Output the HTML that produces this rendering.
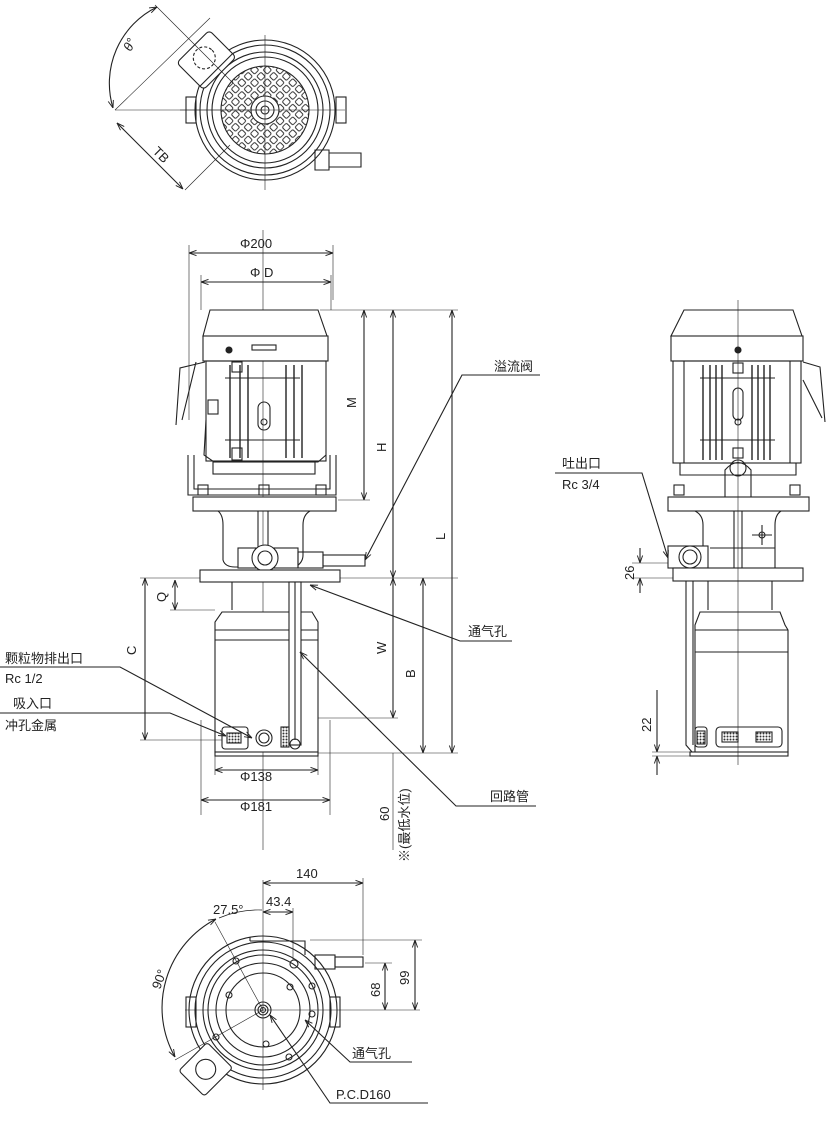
<!DOCTYPE html>
<html><head><meta charset="utf-8"><style>
html,body{margin:0;padding:0;background:#fff}
svg{display:block}
text{font-family:"Liberation Sans","Noto Sans CJK SC",sans-serif;fill:#222}
</style></head><body>
<svg width="829" height="1139" viewBox="0 0 829 1139" xmlns="http://www.w3.org/2000/svg">
<defs>
<marker id="a" viewBox="0 0 10 10" refX="10" refY="5" markerWidth="7" markerHeight="7" orient="auto-start-reverse"><path d="M0,1.5 L10,5 L0,8.5" fill="none" stroke="#222" stroke-width="1.2"/></marker>
<pattern id="grid" width="9" height="9" patternUnits="userSpaceOnUse" patternTransform="rotate(45)"><rect x="1.5" y="1.5" width="6" height="6" rx="1.5" fill="none" stroke="#333" stroke-width="0.9"/></pattern>
<pattern id="mesh" width="3" height="3" patternUnits="userSpaceOnUse"><circle cx="1.5" cy="1.5" r="1" fill="#333"/></pattern>
</defs>
<g fill="none" stroke="#222" stroke-width="1.1">

<!-- ========== TOP VIEW ========== -->
<circle cx="265" cy="110" r="70"/>
<circle cx="265" cy="110" r="65"/>
<circle cx="265" cy="110" r="58"/>
<circle cx="265" cy="110" r="53"/>
<circle cx="265" cy="110" r="44" fill="url(#grid)"/>
<circle cx="265" cy="110" r="14" fill="#fff"/>
<circle cx="265" cy="110" r="9"/>
<circle cx="265" cy="110" r="4"/>
<rect x="186" y="97" width="10" height="26"/>
<rect x="336" y="97" width="10" height="26"/>
<g transform="rotate(-45 205 60)"><rect x="183" y="42" width="46" height="38" rx="4" fill="#fff"/><line x1="183" y1="75" x2="229" y2="75"/><circle cx="206" cy="58" r="11" stroke-dasharray="3 2"/></g>
<path d="M315 150 h14 v20 h-14 z M329 153 h32 v14 h-32"/>
<line x1="180" y1="110" x2="345" y2="110" stroke-width="0.6"/>
<line x1="265" y1="35" x2="265" y2="190" stroke-width="0.6"/>
<line x1="115" y1="110" x2="265" y2="110" stroke-width="0.6"/>
<line x1="115" y1="110" x2="210" y2="18" stroke-width="0.6"/>
<line x1="155" y1="5" x2="235" y2="85" stroke-width="0.6"/>
<line x1="185" y1="190" x2="230" y2="145" stroke-width="0.6"/>
<path d="M113 108 A 85 85 0 0 1 157 7" marker-start="url(#a)" marker-end="url(#a)"/>
<line x1="117" y1="123" x2="183" y2="189" marker-start="url(#a)" marker-end="url(#a)"/>

<!-- ========== FRONT VIEW ========== -->
<line x1="189" y1="245" x2="189" y2="420" stroke-width="0.6"/>
<line x1="333" y1="245" x2="333" y2="300" stroke-width="0.6"/>
<line x1="201" y1="275" x2="201" y2="310" stroke-width="0.6"/>
<line x1="331" y1="275" x2="331" y2="310" stroke-width="0.6"/>
<line x1="189" y1="253" x2="333" y2="253" marker-start="url(#a)" marker-end="url(#a)"/>
<line x1="201" y1="282" x2="331" y2="282" marker-start="url(#a)" marker-end="url(#a)"/>
<line x1="263" y1="230" x2="263" y2="850" stroke-width="0.6"/>
<path d="M210 310 L318 310 L327 336 L203 336 Z" fill="#fff"/>
<rect x="203" y="336" width="125" height="25" fill="#fff"/>
<rect x="252" y="345" width="24" height="5"/>
<circle cx="229" cy="350" r="3" fill="#222"/>
<rect x="206" y="361" width="120" height="100"/>
<g stroke-width="1.4">
<line x1="230" y1="365" x2="230" y2="458"/><line x1="240" y1="365" x2="240" y2="458"/><line x1="248" y1="365" x2="248" y2="458"/>
<line x1="286" y1="365" x2="286" y2="458"/><line x1="294" y1="365" x2="294" y2="458"/><line x1="302" y1="365" x2="302" y2="458"/>
</g>
<line x1="225" y1="378" x2="300" y2="378"/><line x1="225" y1="440" x2="300" y2="440"/>
<rect x="258" y="402" width="12" height="28" rx="6"/>
<circle cx="264" cy="422" r="3"/>
<rect x="232" y="362" width="10" height="10"/><rect x="232" y="448" width="10" height="12"/>
<path d="M205 362 L180 368 L176 425 M196 362 L182 420" />
<rect x="208" y="400" width="10" height="14"/>
<path d="M206 420 L204 455 L214 462 L318 462 L326 455"/>
<rect x="213" y="462" width="102" height="12"/>
<path d="M188 455 L188 495 L336 495 L336 455"/>
<path d="M194 455 L194 489 L330 489 L330 455"/>
<rect x="198" y="485" width="10" height="10"/><rect x="259" y="485" width="10" height="10"/><rect x="316" y="485" width="10" height="10"/>
<rect x="193" y="497" width="143" height="14" fill="#fff"/>
<path d="M218 511 Q223 515 223 525 L223 560 Q225 567 235 567 L295 567 Q303 563 303 555 L303 525 Q303 515 310 511"/>
<line x1="258" y1="511" x2="258" y2="570"/><line x1="268" y1="511" x2="268" y2="570"/>
<rect x="238" y="548" width="60" height="20" fill="#fff"/>
<circle cx="265" cy="558" r="13" fill="#fff"/><circle cx="265" cy="558" r="7"/>
<rect x="298" y="552" width="25" height="16"/><rect x="323" y="555" width="42" height="11"/>
<rect x="200" y="570" width="140" height="12" fill="#fff"/>
<line x1="232" y1="582" x2="232" y2="610"/><line x1="298" y1="582" x2="298" y2="610"/>
<path d="M215 752 L215 622 L222 612 L312 612 L318 622 L318 752 Z" fill="#fff"/>
<line x1="215" y1="630" x2="318" y2="630"/><line x1="215" y1="640" x2="318" y2="640"/>
<rect x="289" y="582" width="12" height="163" fill="#fff"/>
<line x1="295" y1="582" x2="295" y2="740"/>
<circle cx="295" cy="744" r="5"/>
<rect x="222" y="727" width="26" height="22" rx="3"/>
<rect x="227" y="733" width="14" height="10" fill="url(#mesh)"/>
<circle cx="264" cy="738" r="8"/><circle cx="264" cy="738" r="5"/>
<rect x="281" y="727" width="8" height="20" fill="url(#mesh)"/>
<rect x="215" y="752" width="103" height="4"/>
<line x1="320" y1="310" x2="458" y2="310" stroke-width="0.6"/>
<line x1="338" y1="500" x2="370" y2="500" stroke-width="0.6"/>
<line x1="340" y1="578" x2="458" y2="578" stroke-width="0.6"/>
<line x1="318" y1="718" x2="398" y2="718" stroke-width="0.6"/>
<line x1="318" y1="753" x2="458" y2="753" stroke-width="0.6"/>
<line x1="364" y1="310" x2="364" y2="500" marker-start="url(#a)" marker-end="url(#a)"/>
<line x1="393" y1="310" x2="393" y2="578" marker-start="url(#a)" marker-end="url(#a)"/>
<line x1="452" y1="310" x2="452" y2="753" marker-start="url(#a)" marker-end="url(#a)"/>
<line x1="393" y1="578" x2="393" y2="718" marker-start="url(#a)" marker-end="url(#a)"/>
<line x1="423" y1="578" x2="423" y2="753" marker-start="url(#a)" marker-end="url(#a)"/>
<line x1="393" y1="753" x2="393" y2="850" stroke-width="0.6"/>
<line x1="140" y1="578" x2="200" y2="578" stroke-width="0.6"/>
<line x1="170" y1="610" x2="215" y2="610" stroke-width="0.6"/>
<line x1="140" y1="740" x2="222" y2="740" stroke-width="0.6"/>
<line x1="145" y1="578" x2="145" y2="740" marker-start="url(#a)" marker-end="url(#a)"/>
<line x1="175" y1="580" x2="175" y2="610" marker-start="url(#a)" marker-end="url(#a)"/>
<line x1="215" y1="756" x2="215" y2="775" stroke-width="0.6"/>
<line x1="318" y1="756" x2="318" y2="775" stroke-width="0.6"/>
<line x1="201" y1="720" x2="201" y2="815" stroke-width="0.6"/>
<line x1="330" y1="720" x2="330" y2="815" stroke-width="0.6"/>
<line x1="215" y1="770" x2="318" y2="770" marker-start="url(#a)" marker-end="url(#a)"/>
<line x1="201" y1="800" x2="330" y2="800" marker-start="url(#a)" marker-end="url(#a)"/>
<polyline points="540,375 462,375 365,560" marker-end="url(#a)"/>
<polyline points="512,641 460,641 310,585" marker-end="url(#a)"/>
<polyline points="536,806 456,806 300,652" marker-end="url(#a)"/>
<polyline points="0,667 120,667 252,738" marker-end="url(#a)"/>
<polyline points="0,713 170,713 226,736" marker-end="url(#a)"/>

<!-- ========== RIGHT VIEW ========== -->
<path d="M684 310 L793 310 L802 336 L671 336 Z" fill="#fff"/>
<rect x="671" y="336" width="132" height="25" fill="#fff"/>
<circle cx="738" cy="350" r="3" fill="#222"/>
<rect x="673" y="361" width="128" height="102"/>
<line x1="684" y1="361" x2="684" y2="463"/><line x1="790" y1="361" x2="790" y2="463"/>
<g stroke-width="1.4">
<line x1="703" y1="365" x2="703" y2="460"/><line x1="710" y1="365" x2="710" y2="460"/><line x1="716" y1="365" x2="716" y2="460"/><line x1="722" y1="365" x2="722" y2="460"/>
<line x1="752" y1="365" x2="752" y2="460"/><line x1="758" y1="365" x2="758" y2="460"/><line x1="764" y1="365" x2="764" y2="460"/><line x1="770" y1="365" x2="770" y2="460"/>
</g>
<line x1="700" y1="378" x2="775" y2="378"/><line x1="700" y1="440" x2="775" y2="440"/>
<rect x="733" y="388" width="10" height="32" rx="5"/><circle cx="738" cy="422" r="3"/>
<rect x="733" y="363" width="10" height="10"/><rect x="733" y="448" width="10" height="10"/>
<path d="M803 362 L820 367 L825 422 M803 380 L822 418"/>
<path d="M680 463 L680 475 L796 475 L796 463"/>
<path d="M725 497 L725 470 Q738 455 751 470 L751 497"/><circle cx="738" cy="468" r="8"/>
<rect x="674" y="485" width="10" height="10"/><rect x="790" y="485" width="10" height="10"/>
<rect x="668" y="497" width="141" height="14" fill="#fff"/>
<path d="M695 511 Q703 515 703 525 L703 560 M781 511 Q775 515 775 525 L775 568"/>
<line x1="734" y1="511" x2="734" y2="568"/><line x1="742" y1="511" x2="742" y2="568"/>
<line x1="710" y1="548" x2="775" y2="548"/>
<rect x="668" y="546" width="40" height="22" fill="#fff"/>
<circle cx="690" cy="557" r="11" fill="#fff"/><circle cx="690" cy="557" r="7"/>
<circle cx="762" cy="535" r="3"/><line x1="752" y1="535" x2="772" y2="535"/><line x1="762" y1="525" x2="762" y2="545"/>
<rect x="673" y="568" width="130" height="13" fill="#fff"/>
<line x1="708" y1="581" x2="708" y2="610"/><line x1="772" y1="581" x2="772" y2="610"/>
<path d="M695 752 L695 625 L700 612 L780 612 L785 625 L788 630 L788 752 Z" fill="#fff"/>
<line x1="695" y1="630" x2="788" y2="630"/><line x1="695" y1="652" x2="788" y2="652"/>
<path d="M686 581 L686 745 L692 752 M693 581 L693 745" fill="none"/>
<rect x="695" y="727" width="12" height="20" rx="3"/><rect x="697" y="731" width="8" height="13" fill="url(#mesh)"/>
<rect x="716" y="727" width="66" height="20" rx="4"/>
<rect x="722" y="732" width="16" height="10" fill="url(#mesh)"/><rect x="756" y="732" width="16" height="10" fill="url(#mesh)"/>
<rect x="690" y="752" width="98" height="4"/>
<line x1="738" y1="300" x2="738" y2="765" stroke-width="0.6"/>
<polyline points="555,473 642,473 668,558" marker-end="url(#a)"/>
<line x1="632" y1="563" x2="668" y2="563" stroke-width="0.6"/>
<line x1="632" y1="578" x2="673" y2="578" stroke-width="0.6"/>
<line x1="640" y1="548" x2="640" y2="563" marker-end="url(#a)"/>
<line x1="640" y1="593" x2="640" y2="578" marker-end="url(#a)"/>
<line x1="657" y1="690" x2="657" y2="752" marker-end="url(#a)"/>
<line x1="657" y1="775" x2="657" y2="756" marker-end="url(#a)"/>
<line x1="652" y1="752" x2="690" y2="752" stroke-width="0.6"/>
<line x1="652" y1="756" x2="715" y2="756" stroke-width="0.6"/>

<!-- ========== BOTTOM VIEW ========== -->
<circle cx="263" cy="1010" r="74" fill="#fff"/>
<circle cx="263" cy="1010" r="68"/>
<circle cx="263" cy="1010" r="60"/>
<circle cx="263" cy="1010" r="55"/>
<circle cx="263" cy="1010" r="47"/>
<circle cx="263" cy="1010" r="37"/>
<circle cx="263" cy="1010" r="8"/><circle cx="263" cy="1010" r="5"/><circle cx="263" cy="1010" r="2.5"/>
<rect x="186" y="997" width="10" height="30"/><rect x="330" y="997" width="10" height="30"/>
<path d="M250 937 L250 941 M250 941 L305 941 L305 955"/>
<rect x="315" y="955" width="20" height="14"/><rect x="335" y="957" width="28" height="10"/>
<g transform="rotate(-45 205 1070)"><rect x="186" y="1052" width="40" height="36" rx="3" fill="#fff"/><circle cx="206" cy="1070" r="10"/></g>
<circle cx="294" cy="964" r="4"/><circle cx="236" cy="961" r="3"/><circle cx="229" cy="995" r="3"/><circle cx="290" cy="987" r="3"/><circle cx="312" cy="986" r="3"/><circle cx="289" cy="1057" r="3"/><circle cx="266" cy="1044" r="3"/><circle cx="216" cy="1037" r="3"/><circle cx="312" cy="1014" r="3"/>
<line x1="263" y1="880" x2="263" y2="1090" stroke-width="0.6"/>
<line x1="185" y1="1010" x2="420" y2="1010" stroke-width="0.6"/>
<line x1="363" y1="878" x2="363" y2="955" stroke-width="0.6"/>
<line x1="293" y1="908" x2="293" y2="960" stroke-width="0.6"/>
<line x1="263" y1="883" x2="363" y2="883" marker-start="url(#a)" marker-end="url(#a)"/>
<line x1="263" y1="912" x2="293" y2="912" marker-start="url(#a)" marker-end="url(#a)"/>
<line x1="310" y1="940" x2="422" y2="940" stroke-width="0.6"/>
<line x1="365" y1="963" x2="392" y2="963" stroke-width="0.6"/>
<line x1="415" y1="940" x2="415" y2="1010" marker-start="url(#a)" marker-end="url(#a)"/>
<line x1="385" y1="963" x2="385" y2="1010" marker-start="url(#a)" marker-end="url(#a)"/>
<line x1="215" y1="922" x2="263" y2="1010" stroke-width="0.6"/>
<line x1="175" y1="1060" x2="263" y2="1010" stroke-width="0.6"/>
<path d="M175 1057 A 100 100 0 0 1 216 919" marker-start="url(#a)" marker-end="url(#a)"/>
<path d="M219 918 A 100 100 0 0 1 262 910" stroke-width="0.7"/>
<polyline points="412,1062 350,1062 305,1020" marker-end="url(#a)"/>
<polyline points="428,1103 330,1103 270,1015" marker-end="url(#a)"/>
</g>

<!-- ========== TEXT ========== -->
<g font-size="13">
<text x="131" y="52" transform="rotate(-65 131 52)" font-style="italic">θ°</text>
<text x="152" y="152" transform="rotate(45 152 152)">TB</text>
<text x="240" y="248">Φ200</text>
<text x="250" y="277">Φ D</text>
<text x="356" y="408" transform="rotate(-90 356 408)">M</text>
<text x="386" y="452" transform="rotate(-90 386 452)">H</text>
<text x="445" y="540" transform="rotate(-90 445 540)">L</text>
<text x="386" y="654" transform="rotate(-90 386 654)">W</text>
<text x="415" y="678" transform="rotate(-90 415 678)">B</text>
<text x="136" y="655" transform="rotate(-90 136 655)">C</text>
<text x="166" y="602" transform="rotate(-90 166 602)">Q</text>
<text x="240" y="781">Φ138</text>
<text x="240" y="811">Φ181</text>
<text x="389" y="821" transform="rotate(-90 389 821)">60</text>
<text x="409" y="862" transform="rotate(-90 409 862)">※(最低水位)</text>
<text x="494" y="371">溢流阀</text>
<text x="468" y="636">通气孔</text>
<text x="490" y="801">回路管</text>
<text x="5" y="663">颗粒物排出口</text>
<text x="5" y="683">Rc 1/2</text>
<text x="13" y="708">吸入口</text>
<text x="5" y="730">冲孔金属</text>
<text x="562" y="468">吐出口</text>
<text x="562" y="489">Rc 3/4</text>
<text x="634" y="580" transform="rotate(-90 634 580)">26</text>
<text x="651" y="732" transform="rotate(-90 651 732)">22</text>
<text x="296" y="878">140</text>
<text x="266" y="906">43.4</text>
<text x="213" y="914">27.5°</text>
<text x="160" y="990" transform="rotate(-70 160 990)">90°</text>
<text x="409" y="985" transform="rotate(-90 409 985)">99</text>
<text x="380" y="997" transform="rotate(-90 380 997)">68</text>
<text x="352" y="1058">通气孔</text>
<text x="336" y="1099">P.C.D160</text>
</g>
</svg>
</body></html>
